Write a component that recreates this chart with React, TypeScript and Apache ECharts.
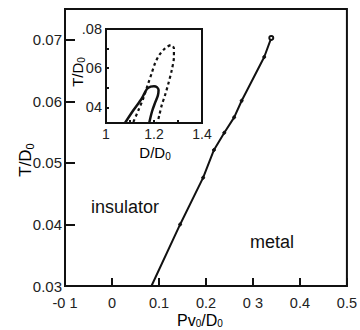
import React, { useEffect, useRef } from "react";
import * as echarts from "echarts";

// Main plot: phase boundary
const mainX = [0.084, 0.145, 0.194, 0.217, 0.239, 0.26, 0.276, 0.324, 0.339];
const mainY = [0.03, 0.04, 0.0476, 0.0521, 0.0549, 0.0574, 0.0601, 0.0672, 0.0703];
const mainXLabels = ["-0 1", "0", "0.1", "0.2", "0 3", "0.4", "0.5"];
const mainYLabels = ["0.03", "0.04", "0.05", "0.06", "0.07"];
const mainYValues = [0.03, 0.04, 0.05, 0.06, 0.07];

// Inset: solid loop
const solidX = [1.079, 1.114, 1.149, 1.17, 1.186, 1.2, 1.212, 1.219, 1.216, 1.205, 1.192, 1.18];
const solidY = [0.032, 0.0385, 0.0445, 0.0493, 0.0506, 0.0508, 0.0503, 0.0488, 0.046, 0.0425, 0.038, 0.032];
// Inset: dotted loop
const dotX = [1.114, 1.135, 1.155, 1.176, 1.19, 1.204, 1.222, 1.246, 1.271, 1.283, 1.283, 1.274, 1.26, 1.246, 1.232, 1.222, 1.214];
const dotY = [0.0325, 0.0385, 0.0445, 0.0522, 0.0573, 0.0624, 0.0667, 0.0701, 0.0718, 0.0701, 0.0658, 0.059, 0.0522, 0.0462, 0.041, 0.0359, 0.032];
const insetXLabels = ["1", "1.2", "1.4"];
const insetXValues = [1, 1.2, 1.4];
const insetYLabels = ["04", "06", ".08"];
const insetYValues = [0.04, 0.06, 0.08];

const FONT = "Liberation Sans";

export default function App() {
  const ref = useRef<HTMLDivElement>(null);
  useEffect(() => {
    if (!ref.current) return;
    const chart = echarts.init(ref.current, null, { renderer: "svg" });
    const axisLine = { show: true, onZero: false, lineStyle: { color: "#111", width: 2 } };
    const sub = { fontSize: 11, fontFamily: FONT, color: "#111", padding: [9, 0, 0, 0] };
    chart.setOption({
      animation: false,
      backgroundColor: "#fff",
      grid: [
        { left: 65, right: 10, top: 9, bottom: 44, show: true, borderColor: "#111", borderWidth: 2 },
        { left: 106, right: 158, top: 29, bottom: 207, show: true, borderColor: "#111", borderWidth: 2, backgroundColor: "#fff" },
      ],
      xAxis: [
        {
          type: "value", gridIndex: 0, min: -0.1, max: 0.5, interval: 0.1,
          axisLine, splitLine: { show: false },
          axisTick: { inside: true, length: 8, lineStyle: { color: "#111", width: 2 } },
          axisLabel: {
            margin: 9, fontSize: 14.5, fontFamily: FONT, color: "#222",
            formatter: (v: number) => mainXLabels[Math.round((v + 0.1) * 10)] ?? "",
          },
        },
        {
          type: "value", gridIndex: 1, min: 1, max: 1.4,
          axisLine, splitLine: { show: false },
          axisTick: { inside: true, length: 3, customValues: [1.1, 1.2, 1.3], lineStyle: { color: "#111", width: 2 } },
          axisLabel: {
            customValues: insetXValues, margin: 4, fontSize: 14, fontFamily: FONT, color: "#222",
            formatter: (v: number) => insetXLabels[insetXValues.findIndex((x) => Math.abs(x - v) < 1e-6)] ?? "",
          },
        },
      ],
      yAxis: [
        {
          type: "value", gridIndex: 0, min: 0.03, max: 0.075,
          axisLine, splitLine: { show: false },
          axisTick: { inside: true, length: 10, customValues: mainYValues, lineStyle: { color: "#111", width: 2 } },
          axisLabel: {
            customValues: mainYValues, margin: 3, fontSize: 15, fontFamily: FONT, color: "#222",
            formatter: (v: number) => mainYLabels[mainYValues.findIndex((x) => Math.abs(x - v) < 1e-6)] ?? "",
          },
        },
        {
          type: "value", gridIndex: 1, min: 0.032, max: 0.08,
          axisLine, splitLine: { show: false },
          axisTick: { inside: true, length: 3, customValues: [0.04, 0.05, 0.06, 0.07], lineStyle: { color: "#111", width: 2 } },
          axisLabel: {
            customValues: insetYValues, margin: 4, fontSize: 14.5, fontFamily: FONT, color: "#222",
            formatter: (v: number) => insetYLabels[insetYValues.findIndex((x) => Math.abs(x - v) < 1e-6)] ?? "",
          },
        },
      ],
      series: [
        {
          type: "line", xAxisIndex: 0, yAxisIndex: 0,
          data: mainX.map((x, i) => ({
            value: [x, mainY[i]],
            symbol: i === 0 ? "none" : i === mainX.length - 1 ? "emptyCircle" : "circle",
            symbolSize: i === mainX.length - 1 ? 4 : 3,
          })),
          lineStyle: { color: "#111", width: 2 },
          itemStyle: { color: "#111", borderColor: "#111", borderWidth: 1 },
          showSymbol: true,
        },
        {
          type: "line", xAxisIndex: 1, yAxisIndex: 1, smooth: 0.3, showSymbol: false,
          data: solidX.map((x, i) => [x, solidY[i]]),
          lineStyle: { color: "#111", width: 2.5 },
        },
        {
          type: "line", xAxisIndex: 1, yAxisIndex: 1, smooth: 0.3, showSymbol: false,
          data: dotX.map((x, i) => [x, dotY[i]]),
          lineStyle: { color: "#111", width: 2.2, type: [3, 3] },
        },
      ],
      graphic: [
        {
          type: "text", x: 200, y: 320,
          style: {
            text: "{a|Pv}{s|0}{a|/D}{s|0}", align: "center", verticalAlign: "middle",
            rich: { a: { fontSize: 16, fontFamily: FONT, color: "#111" }, s: { ...sub, fontSize: 10, padding: [7, 0, 0, 0] } },
          },
        },
        {
          type: "text", x: 25, y: 160, rotation: Math.PI / 2,
          style: {
            text: "{a|T/D}{s|0}", align: "center", verticalAlign: "middle",
            rich: { a: { fontSize: 17, fontFamily: FONT, color: "#111" }, s: sub },
          },
        },
        {
          type: "text", x: 155, y: 152,
          style: {
            text: "{a|D/D}{s|0}", align: "center", verticalAlign: "middle",
            rich: { a: { fontSize: 15, fontFamily: FONT, color: "#111" }, s: { ...sub, fontSize: 10, padding: [8, 0, 0, 0] } },
          },
        },
        {
          type: "text", x: 77, y: 72, rotation: Math.PI / 2,
          style: {
            text: "{a|T/D}{s|0}", align: "center", verticalAlign: "middle",
            rich: { a: { fontSize: 15, fontFamily: FONT, color: "#111" }, s: { ...sub, fontSize: 10, padding: [8, 0, 0, 0] } },
          },
        },
        {
          type: "text", x: 125, y: 207,
          style: { text: "insulator", align: "center", verticalAlign: "middle", fontSize: 18, fontFamily: FONT, fill: "#111" },
        },
        {
          type: "text", x: 272, y: 242,
          style: { text: "metal", align: "center", verticalAlign: "middle", fontSize: 18, fontFamily: FONT, fill: "#111" },
        },
      ],
    });
    return () => chart.dispose();
  }, []);
  return <div ref={ref} style={{ width: 360, height: 330, position: "absolute", left: 0, top: 0 }} />;
}
